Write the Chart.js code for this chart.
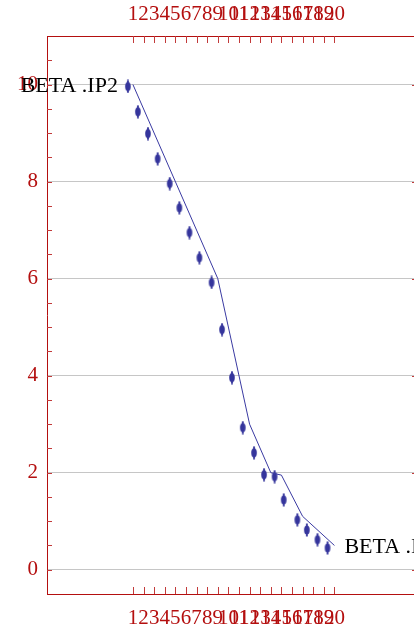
<!DOCTYPE html>
<html>
<head>
<meta charset="utf-8">
<script src="https://cdn.jsdelivr.net/npm/chart.js@4"></script>
<style>
  html, body { margin: 0; padding: 0; background: #fff; }
  canvas { display: block; }
</style>
</head>
<body>
<canvas id="chart" width="414" height="632"></canvas>
<script>
// tick labels
const xTicks = [1,2,3,4,5,6,7,8,9,10,11,12,13,14,15,16,17,18,19,20];
const yTicks = [0, 2, 4, 6, 8, 10];
const yMinorTicks = [0,0.5,1,1.5,2,2.5,3,3.5,4,4.5,5,5.5,6,6.5,7,7.5,8,8.5,9,9.5,10,10.5];

// fitted curve (line)
const lineX = [1, 9, 12, 14, 15, 17, 20];
const lineY = [10, 6, 3, 2, 1.95, 1.1, 0.5];

// measured points
const pointX = [0.53,1.47,2.42,3.33,4.47,5.38,6.33,7.27,8.42,9.4,10.34,11.36,12.42,13.36,14.36,15.22,16.5,17.4,18.4,19.35];
const pointY = [9.96,9.44,8.99,8.47,7.96,7.46,6.95,6.43,5.92,4.95,3.96,2.93,2.41,1.96,1.92,1.44,1.03,0.82,0.62,0.45];

const curveLabel = 'BETA .IP2';

const RED = '#b40f0f';
const BLUE = '#3a3aa2';
const FONT = "'Liberation Serif', 'Times New Roman', serif";

// marker: small ellipse with error bar stub
function makeMarker() {
    const c = document.createElement('canvas');
    c.width = 8; c.height = 14;
    const g = c.getContext('2d');
    g.fillStyle = '#35359c';
    g.strokeStyle = '#35359c';
    g.lineWidth = 1.8;
    g.beginPath();
    g.moveTo(4, 0.5); g.lineTo(4, 13.5);
    g.stroke();
    g.beginPath();
    g.ellipse(4, 7, 2.8, 4.6, 0, 0, Math.PI * 2);
    g.fill();
    return c;
}

const extras = {
    id: 'extras',
    afterDatasetsDraw(chart) {
        const ctx = chart.ctx;
        const x = chart.scales.x, y = chart.scales.y;
        const a = chart.chartArea;
        ctx.save();
        ctx.strokeStyle = '#c23a3a';
        ctx.lineWidth = 1;
        // inward ticks, top and bottom
        xTicks.forEach(v => {
            const px = Math.round(x.getPixelForValue(v)) + 0.5;
            ctx.beginPath();
            ctx.moveTo(px, a.top); ctx.lineTo(px, a.top + 7);
            ctx.moveTo(px, a.bottom); ctx.lineTo(px, a.bottom - 7);
            ctx.stroke();
        });
        // inward ticks, left
        yMinorTicks.forEach(v => {
            const py = Math.round(y.getPixelForValue(v)) + 0.5;
            ctx.beginPath();
            ctx.moveTo(a.left, py); ctx.lineTo(a.left + 5, py);
            ctx.stroke();
        });
        // right edge marks
        yTicks.forEach(v => {
            const py = Math.round(y.getPixelForValue(v)) + 0.5;
            ctx.beginPath();
            ctx.moveTo(a.right - 2, py); ctx.lineTo(a.right, py);
            ctx.stroke();
        });
        // curve labels at both ends
        ctx.fillStyle = '#000';
        ctx.font = '22px ' + FONT;
        ctx.textBaseline = 'middle';
        const n = lineX.length - 1;
        ctx.textAlign = 'right';
        ctx.fillText(curveLabel, x.getPixelForValue(lineX[0]) - 15, y.getPixelForValue(lineY[0]) + 2);
        ctx.textAlign = 'left';
        ctx.fillText(curveLabel, x.getPixelForValue(lineX[n]) + 10, y.getPixelForValue(lineY[n]) + 2);
        ctx.restore();
    }
};

const xAxis = (pos, h, pad) => ({
    type: 'linear',
    position: pos,
    min: -7.1,
    max: 27.5,
    afterBuildTicks: s => { s.ticks = xTicks.map(v => ({ value: v })); },
    afterFit: s => { s.height = h; s.paddingLeft = 0; s.paddingRight = 0; },
    grid: { display: false, drawTicks: false },
    border: { display: true, color: RED, width: 1 },
    ticks: {
        color: RED,
        font: { family: FONT, size: 21 },
        autoSkip: false,
        maxRotation: 0,
        padding: pad
    }
});

new Chart(document.getElementById('chart'), {
    type: 'scatter',
    data: {
        datasets: [{
            label: curveLabel,
            data: lineX.map((v, i) => ({ x: v, y: lineY[i] })),
            showLine: true,
            borderColor: BLUE,
            borderWidth: 1,
            pointRadius: 0,
            xAxisID: 'x',
            yAxisID: 'y'
        }, {
            label: 'data',
            data: pointX.map((v, i) => ({ x: v, y: pointY[i] })),
            showLine: false,
            pointStyle: makeMarker(),
            xAxisID: 'x',
            yAxisID: 'y'
        }]
    },
    options: {
        responsive: false,
        animation: false,
        devicePixelRatio: 1,
        layout: { padding: 0, autoPadding: false },
        plugins: {
            legend: { display: false },
            tooltip: { enabled: false }
        },
        scales: {
            x: xAxis('bottom', 38, 12),
            x2: xAxis('top', 36, 9),
            y: {
                type: 'linear',
                position: 'left',
                min: -0.5,
                max: 11,
                afterBuildTicks: s => { s.ticks = yTicks.map(v => ({ value: v })); },
                afterFit: s => { s.width = 47; s.paddingTop = 0; s.paddingBottom = 0; },
                grid: { color: '#c6c6c6', lineWidth: 1, drawTicks: false },
                border: { display: true, color: RED, width: 1 },
                ticks: {
                    color: RED,
                    font: { family: FONT, size: 21 },
                    padding: 9
                }
            }
        }
    },
    plugins: [extras]
});
</script>
</body>
</html>
